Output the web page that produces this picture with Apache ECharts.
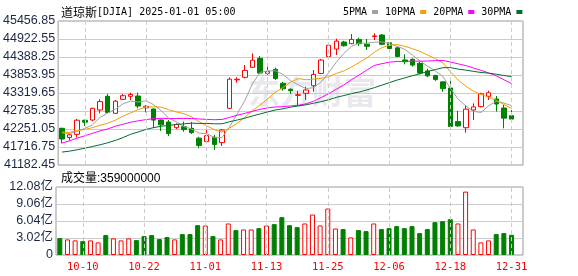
<!DOCTYPE html>
<html><head><meta charset="utf-8">
<script src="https://cdn.jsdelivr.net/npm/echarts@6/dist/echarts.min.js"></script>
<style>html,body{margin:0;padding:0;background:#fff}#c{width:578px;height:276px}</style>
</head><body><div id="c"></div>
<script>
const dates = ['10-07','10-08','10-09','10-10','10-11','10-14','10-15','10-16','10-17','10-18','10-21','10-22','10-23','10-24','10-25','10-28','10-29','10-30','10-31','11-01','11-04','11-05','11-06','11-07','11-08','11-11','11-12','11-13','11-14','11-15','11-18','11-19','11-20','11-21','11-22','11-25','11-26','11-27','11-29','12-02','12-03','12-04','12-05','12-06','12-09','12-10','12-11','12-12','12-13','12-16','12-17','12-18','12-19','12-20','12-23','12-24','12-26','12-27','12-30','12-31'];
const xLabels = ['10-10','10-22','11-01','11-13','11-25','12-06','12-18','12-31'];
const opens = [42271,42000,42093,42510,42518,42815,43221,42716,43132,43221,43230,42880,42845,42520,42459,42290,42320,42270,41980,41875,42004,41846,42865,43710,43785,44081,44349,43903,44022,43606,43430,43250,43310,43535,43900,44398,44625,44833,44783,44910,44770,44997,45040,44810,44660,44300,44320,44200,43975,43840,43650,43468,42470,42290,42815,42914,43221,43142,42874,42647];
const closes = [41954.24,42080.37,42512.00,42454.12,42863.86,43065.22,42740.42,43077.70,43239.05,43275.91,42931.60,42924.89,42514.95,42374.36,42114.40,42387.57,42233.05,42141.54,41763.46,42052.19,41794.60,42221.88,43729.93,43729.34,43988.99,44293.13,43910.98,43958.19,43750.86,43444.99,43389.60,43268.94,43408.47,43870.35,44296.51,44736.57,44860.31,44722.06,44910.65,44782.00,44705.53,45014.04,44765.71,44642.52,44401.93,44247.83,44148.56,43914.12,43828.06,43717.48,43449.90,42326.87,42342.24,42840.26,42906.95,43297.03,43325.80,42992.21,42573.73,42544.22];
const highs = [42290,42100,42548,42530,42885,43132,43290,43112,43290,43330,43330,42960,42860,42530,42518,42420,42470,42460,42020,42320,42073,42251,43785,43785,44151,44497,44418,44151,44072,43650,43460,43380,43510,44002,44330,44770,44932,44870,45071,44960,44923,45091,45070,44830,44680,44467,44350,44240,44040,43860,43660,43706,42795,42964,43013,43330,43389,43231,42964,42815];
const lows = [41826,41905,42004,42340,42480,42716,42716,42696,43112,43112,42865,42746,42280,42190,42043,42250,42170,42100,41680,41826,41628,41746,42850,43625,43755,44060,43880,43854,43706,43390,43290,42964,43112,43359,43880,44380,44448,44700,44770,44720,44596,44893,44740,44560,44380,44170,44100,43880,43790,43680,43359,42300,42320,42142,42518,42890,43112,42766,42271,42439];
const prevClose = 42352.75;
const volumes = [3.00,2.77,2.59,2.47,2.59,2.24,3.54,2.95,2.59,2.95,2.65,3.36,3.54,2.83,3.18,2.77,3.71,3.71,5.30,5.24,3.36,2.77,5.60,4.42,4.54,4.54,4.77,5.24,5.48,6.72,5.30,4.95,5.60,7.19,5.24,8.25,4.71,4.60,3.12,4.42,4.24,5.60,4.60,4.77,5.13,4.77,5.13,3.89,4.60,5.83,6.01,6.36,5.60,11.26,4.54,2.24,2.59,3.71,3.89,3.59];
const ma5 = [42134.4,42119.1,42182.2,42270.7,42372.9,42595.1,42727.1,42840.3,42997.3,43079.7,43052.9,43089.8,42977.3,42804.3,42572.0,42463.2,42324.9,42250.2,42128.0,42115.6,41997.0,41994.7,42312.4,42705.6,43092.9,43592.7,43930.5,43976.1,43980.4,43871.6,43690.9,43562.5,43452.6,43476.5,43646.8,43916.2,44234.4,44497.2,44705.2,44802.3,44796.1,44826.9,44835.6,44782.0,44705.9,44614.4,44441.3,44271.0,44108.1,43971.2,43811.6,43447.3,43132.9,42935.4,42773.2,42742.7,42942.5,43072.5,43019.1,42946.6];
const ma10 = [42161.3,42148.5,42208.3,42236.2,42291.3,42364.8,42423.1,42511.2,42634.0,42726.3,42824.0,42908.5,42908.8,42900.8,42825.9,42758.1,42707.3,42613.7,42466.2,42343.8,42230.1,42159.8,42281.3,42416.8,42604.3,42794.8,42962.6,43144.3,43343.0,43482.3,43641.8,43746.5,43714.3,43728.5,43759.2,43803.5,43898.5,43974.9,44090.8,44224.5,44356.1,44530.6,44666.4,44743.6,44754.1,44705.3,44634.1,44553.3,44445.0,44338.6,44213.0,43944.3,43702.0,43521.7,43372.2,43277.1,43194.9,43102.7,42977.2,42859.9];
const ma20 = [41832.4,41899.5,41982.0,42049.9,42123.4,42195.6,42252.3,42331.0,42391.7,42452.3,42492.7,42528.5,42558.5,42568.5,42558.6,42561.4,42565.2,42562.5,42550.1,42535.0,42527.1,42534.1,42595.0,42658.8,42715.1,42776.4,42835.0,42879.0,42904.6,42913.0,42935.9,42953.1,42997.8,43072.6,43181.7,43299.2,43430.5,43559.6,43716.9,43853.4,43999.0,44138.6,44190.4,44236.0,44256.7,44254.4,44266.3,44264.1,44267.9,44281.6,44284.6,44237.5,44184.2,44132.7,44063.2,43991.2,43914.5,43828.0,43711.1,43599.2];
const ma30 = [41565.7,41593.7,41635.7,41681.1,41732.1,41782.2,41842.3,41912.4,41995.2,42092.8,42162.9,42235.8,42290.9,42333.5,42357.6,42383.1,42404.0,42425.3,42416.5,42416.2,42405.2,42405.6,42466.1,42517.9,42573.8,42639.2,42697.7,42756.4,42814.4,42850.8,42898.6,42938.3,42968.1,43015.3,43063.1,43118.8,43189.5,43244.3,43300.0,43350.2,43409.3,43479.0,43554.0,43629.6,43705.9,43767.9,43831.7,43890.8,43959.6,44015.1,44070.3,44073.8,44027.6,43997.9,43961.9,43928.7,43909.1,43876.9,43837.7,43807.7];
const priceMin = 41182.45, priceMax = 45456.85, priceStep = 534.3;
const volMax = 12.08, volStep = 3.02;
const titleText = '道琼斯[DJIA] 2025-01-01 05:00';

const RED = '#ff0000', GREEN = '#008000';
const LABEL_COLOR = '#1a2744';
const MONO = "'DejaVu Sans Mono','Liberation Mono',monospace";
const SANS = "'Liberation Sans','Noto Sans CJK SC',sans-serif";
const cats = dates.concat(['']);

const candleData = dates.map((d, i) => [opens[i], closes[i], lows[i], highs[i]]);
const volData = volumes.map((v, i) => {
  const prev = i === 0 ? prevClose : closes[i - 1];
  const up = closes[i] >= prev;
  return {value: v, itemStyle: up ? {color: '#fff', borderColor: RED, borderWidth: 1} : {color: GREEN, borderColor: GREEN, borderWidth: 1}};
});
const lastVol = Math.round(volumes[volumes.length - 1] * 1e8);
const isLabelled = (idx, val) => xLabels.indexOf(val) >= 0;

const chart = echarts.init(document.getElementById('c'), null, {renderer: 'canvas'});
const xAxisBase = {
  type: 'category', data: cats, boundaryGap: true,
  axisLine: {show: false}, axisTick: {show: false}, splitLine: {show: false}
};
const maSeries = (name, data, color) => ({
  name, type: 'line', data, xAxisIndex: 0, yAxisIndex: 0, showSymbol: false, symbol: 'none',
  lineStyle: {color, width: 1}, itemStyle: {color}, z: 4, silent: true
});
const gridLineSeries = (axisIdx) => ({
  name: 'grid' + axisIdx, type: 'line', xAxisIndex: axisIdx, yAxisIndex: axisIdx, z: 1, silent: true,
  data: dates.map(() => '-'), showSymbol: false, symbol: 'none', lineStyle: {width: 0},
  markLine: {silent: true, symbol: 'none', animation: false, label: {show: false},
    lineStyle: {color: '#cccccc', type: [4, 3], width: 1},
    emphasis: {disabled: true},
    data: xLabels.map(d => ({xAxis: d}))}
});
chart.setOption({
  animation: false,
  backgroundColor: '#fff',
  title: [
    {left: 56, top: 1, text: '{a|道琼斯}{b|' + titleText.slice(3) + '}', textStyle: {fontWeight: 'normal', rich: {
      a: {fontFamily: "'Noto Sans CJK SC'", fontSize: 12, fontWeight: 'normal', color: '#000'},
      b: {fontFamily: MONO, fontSize: 10, fontWeight: 'normal', color: '#000'}}}},
    {left: 56, top: 168, text: '成交量:' + lastVol, textStyle: {fontFamily: SANS, fontSize: 12, fontWeight: 'normal', color: '#000'}}
  ],
  legend: {
    left: 338, top: 2, align: 'right', icon: 'rect', itemWidth: 6, itemHeight: 4, itemGap: 7,
    data: ['5PMA', '10PMA', '20PMA', '30PMA'],
    textStyle: {fontFamily: MONO, fontSize: 10, color: '#000', padding: [0, 0, 0, 0]}
  },
  graphic: [{
    type: 'text', left: 248, top: 76, z: -1, silent: true,
    style: {text: '东方财富', fill: '#e8e8ee', font: 'bold 32px "Noto Sans CJK SC"'}
  }],
  grid: [
    {left: 56, right: 55, top: 21, height: 144, show: true, borderColor: '#999', borderWidth: 1, backgroundColor: 'transparent'},
    {left: 56, right: 55, top: 187, height: 68, show: true, borderColor: '#999', borderWidth: 1, backgroundColor: 'transparent'}
  ],
  xAxis: [
    Object.assign({gridIndex: 0, axisLabel: {show: false}}, xAxisBase),
    Object.assign({gridIndex: 1, axisLabel: {show: true, interval: isLabelled, color: RED, fontFamily: MONO, fontSize: 10.5, margin: 7}}, xAxisBase)
  ],
  yAxis: [
    {type: 'value', gridIndex: 0, min: priceMin, max: priceMax, interval: priceStep, scale: true,
     axisLine: {show: false}, axisTick: {show: false},
     axisLabel: {color: LABEL_COLOR, fontFamily: SANS, fontSize: 12.5, margin: 3, formatter: v => v.toFixed(2)},
     splitLine: {lineStyle: {color: '#cccccc', width: 1}}},
    {type: 'value', gridIndex: 1, min: 0, max: volMax, interval: volStep,
     axisLine: {show: false}, axisTick: {show: false},
     axisLabel: {color: LABEL_COLOR, fontFamily: SANS, fontSize: 12.5, margin: 3, formatter: v => v === 0 ? '0' : v.toFixed(2) + '亿'},
     splitLine: {lineStyle: {color: '#cccccc', width: 1}}}
  ],
  series: [
    gridLineSeries(0),
    gridLineSeries(1),
    {name: 'K', type: 'candlestick', data: candleData, xAxisIndex: 0, yAxisIndex: 0, barWidth: 5, z: 3,
     itemStyle: {color: '#fff', color0: GREEN, borderColor: RED, borderColor0: GREEN, borderWidth: 1}},
    maSeries('5PMA', ma5, '#a0a0a0'),
    maSeries('10PMA', ma10, '#f0a000'),
    maSeries('20PMA', ma20, '#ff00ff'),
    maSeries('30PMA', ma30, '#006f2e'),
    {name: 'VOL', type: 'bar', data: volData, xAxisIndex: 1, yAxisIndex: 1, barWidth: 5, z: 3}
  ]
});
</script></body></html>
